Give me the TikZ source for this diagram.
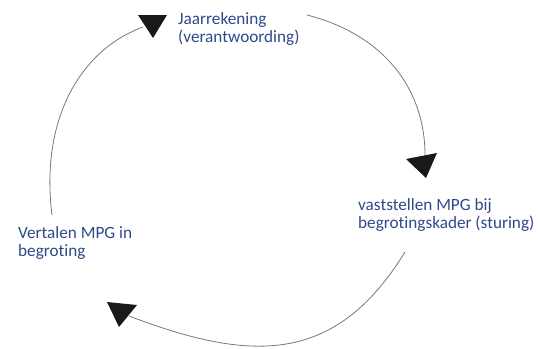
\documentclass[tikz,border=0pt]{standalone}
\usepackage{fontspec}
\setmainfont{Carlito}[Ligatures=NoCommon]
\definecolor{txtblue}{RGB}{47,72,138}
\definecolor{arcgray}{RGB}{120,120,120}
\definecolor{headblack}{RGB}{25,25,25}
\begin{document}
\begin{tikzpicture}[x=1pt,y=-1pt,
  lbl/.style={text=txtblue,font=\fontsize{17.2}{17.8}\selectfont,align=left,anchor=base west,inner sep=0pt},
  arcline/.style={draw=arcgray,line width=0.8pt},
  head/.style={fill=headblack,draw=none}]
\useasboundingbox (0,0) rectangle (538,348);
% labels (anchor = baseline of the last line)
\node[lbl] (jaar) at (178,42.5) {Jaarrekening\\(verantwoording)};
\node[lbl] (vast) at (358,228) {vaststellen MPG bij\\begrotingskader (sturing)};
\node[lbl] (vert) at (18,256.5) {Vertalen MPG in\\begroting};
% connector end points
\coordinate (a1s) at (52,215);
\coordinate (a1e) at (143,27);
\coordinate (a2s) at (307,15);
\coordinate (a2e) at (425,155);
\coordinate (a3s) at (405,252);
\coordinate (a3e) at (129,316);
% arcs
\draw[arcline] (a1s) .. controls (40,120) and (80,50) .. (a1e);
\draw[arcline] (a2s) .. controls (385,35) and (425,90) .. (a2e);
\draw[arcline] (a3s) .. controls (335,366) and (250,362) .. (a3e);
% arrow heads
\fill[head] (138,15) -- (167,15) -- (153,38) -- cycle;
\fill[head] (406,159) -- (437,153) -- (426,178) -- cycle;
\fill[head] (107,302) -- (137,305) -- (119,327) -- cycle;
\end{tikzpicture}
\end{document}
